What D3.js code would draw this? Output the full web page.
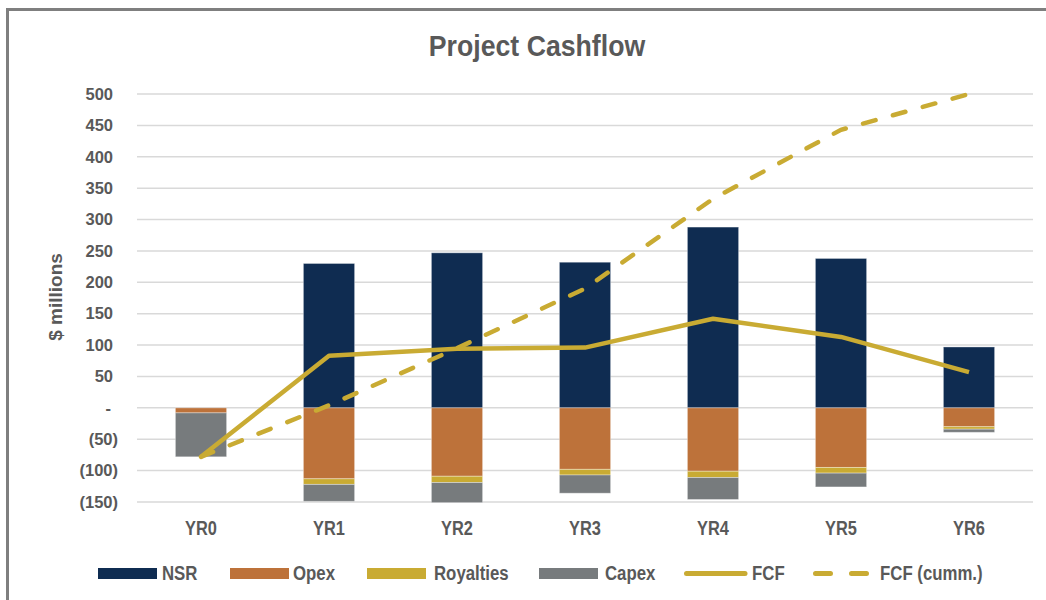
<!DOCTYPE html>
<html>
<head>
<meta charset="utf-8">
<script src="https://cdn.jsdelivr.net/npm/d3@7"></script>
<style>
  body { margin: 0; background: #fff; }
  text { font-family: "Liberation Sans", Arial, sans-serif; font-weight: bold; fill: #595959; }
</style>
</head>
<body>
<div id="chart"></div>
<script>
// data
var years = ["YR0", "YR1", "YR2", "YR3", "YR4", "YR5", "YR6"];
var nsr = [0, 230, 247, 232, 288, 238, 97];
var opex = [-8, -113, -109, -98, -101, -95, -30];
var royalties = [0, -9, -10, -9, -10, -9, -4];
var capex = [-70, -27, -32, -29, -35, -22, -5];
var fcf = [-78, 83, 94, 96, 142, 113, 57];
var fcfCumm = [-78, 4, 95, 190, 333, 443, 500];
var yTicks = [-150, -100, -50, 0, 50, 100, 150, 200, 250, 300, 350, 400, 450, 500];

var seriesKeys = ["NSR", "Opex", "Royalties", "Capex"];
var colors = { NSR: "#0f2c51", Opex: "#bd723a", Royalties: "#c9ab33", Capex: "#777b7d" };
var lineColor = "#c9ab33";

var W = 1046, H = 600;
var plot = { left: 137, right: 1033, top: 94, bottom: 502 };

var svg = d3.select("#chart").append("svg")
    .attr("width", W)
    .attr("height", H);

// condensed text helper (reference uses a narrow face)
function narrowText(parent, x, y, sx, size, str, anchor) {
    return parent.append("text")
        .attr("transform", "translate(" + x + "," + y + ") scale(" + sx + ",1)")
        .attr("text-anchor", anchor || "start")
        .style("font-size", size + "px")
        .text(str);
}

// chart frame (runs off the right / bottom edge like the screenshot)
svg.append("rect")
    .attr("x", 7.5).attr("y", 9.5)
    .attr("width", 1200).attr("height", 800)
    .attr("fill", "none")
    .attr("stroke", "#7f7f7f")
    .attr("stroke-width", 3);

var x = d3.scaleBand().domain(years).range([plot.left, plot.right]).paddingInner(0.6).paddingOuter(0.3);
var y = d3.scaleLinear().domain([-150, 500]).range([plot.bottom, plot.top]);

// gridlines
svg.append("g")
    .selectAll("line")
    .data(yTicks)
    .join("line")
    .attr("x1", plot.left).attr("x2", plot.right)
    .attr("y1", function(d) { return y(d); })
    .attr("y2", function(d) { return y(d); })
    .attr("stroke", "#d9d9d9")
    .attr("stroke-width", 1.5);

// y axis labels, accounting style
var yAxis = d3.axisLeft(y).tickValues(yTicks).tickSize(0).tickPadding(24)
    .tickFormat(function(d) { return d === 0 ? "-" : d < 0 ? "(" + (-d) + ")" : d; });
var yg = svg.append("g")
    .attr("transform", "translate(" + plot.left + ",0)")
    .call(yAxis);
yg.select(".domain").remove();
yg.selectAll("text")
    .attr("x", function(d) { return d < 0 ? -19 : d === 0 ? -26 : -24; })
    .style("font-size", "16.5px");

// x axis labels
var xAxis = d3.axisBottom(x).tickSize(0).tickFormat("");
var xg = svg.append("g")
    .attr("transform", "translate(0," + plot.bottom + ")")
    .call(xAxis);
xg.select(".domain").remove();
years.forEach(function(yr) {
    narrowText(svg, x(yr) + x.bandwidth() / 2, 535, 0.82, 20, yr, "middle");
});

// stacked bars
var rows = years.map(function(yr, i) {
    return { year: yr, NSR: nsr[i], Opex: opex[i], Royalties: royalties[i], Capex: capex[i] };
});
var stacked = d3.stack().keys(seriesKeys).offset(d3.stackOffsetDiverging)(rows);

svg.append("g")
    .selectAll("g")
    .data(stacked)
    .join("g")
    .attr("fill", function(d) { return colors[d.key]; })
    .selectAll("rect")
    .data(function(d) { return d; })
    .join("rect")
    .attr("x", function(d) { return x(d.data.year); })
    .attr("width", x.bandwidth())
    .attr("y", function(d) { return y(Math.max(d[0], d[1])); })
    .attr("height", function(d) { return Math.abs(y(d[0]) - y(d[1])); })
    .attr("stroke", "#ffffff")
    .attr("stroke-opacity", 0.35)
    .attr("stroke-width", 1);

// FCF lines
var line = d3.line()
    .x(function(d, i) { return x(years[i]) + x.bandwidth() / 2; })
    .y(function(d) { return y(d); });

svg.append("path")
    .attr("d", line(fcf))
    .attr("fill", "none")
    .attr("stroke", lineColor)
    .attr("stroke-width", 4.5)
    .attr("stroke-linejoin", "round");

svg.append("path")
    .attr("d", line(fcfCumm))
    .attr("fill", "none")
    .attr("stroke", lineColor)
    .attr("stroke-width", 4.5)
    .attr("stroke-linecap", "round")
    .attr("stroke-dasharray", "13,18");

// title
narrowText(svg, 537, 56, 0.92, 29, "Project Cashflow", "middle");

// y axis title
svg.append("text")
    .attr("transform", "translate(62,297) rotate(-90)")
    .attr("text-anchor", "middle")
    .style("font-size", "19px")
    .text("$ millions");

// legend
var legendItems = [
    { name: "NSR", type: "rect", color: colors.NSR, x: 98, tx: 162 },
    { name: "Opex", type: "rect", color: colors.Opex, x: 230, tx: 293 },
    { name: "Royalties", type: "rect", color: colors.Royalties, x: 367, tx: 434 },
    { name: "Capex", type: "rect", color: colors.Capex, x: 539, tx: 605 },
    { name: "FCF", type: "line", color: lineColor, x: 684, tx: 752 },
    { name: "FCF (cumm.)", type: "dash", color: lineColor, x: 813, tx: 880 }
];
var legend = svg.append("g");
legendItems.forEach(function(it) {
    if (it.type === "rect") {
        legend.append("rect").attr("x", it.x).attr("y", 568).attr("width", 59).attr("height", 11).attr("fill", it.color);
    } else if (it.type === "line") {
        legend.append("line").attr("x1", it.x + 2.5).attr("x2", it.x + 61).attr("y1", 573.5).attr("y2", 573.5)
            .attr("stroke", it.color).attr("stroke-width", 5).attr("stroke-linecap", "round");
    } else {
        legend.append("line").attr("x1", it.x + 2.5).attr("x2", it.x + 54).attr("y1", 573.5).attr("y2", 573.5)
            .attr("stroke", it.color).attr("stroke-width", 5).attr("stroke-linecap", "round")
            .attr("stroke-dasharray", "15,21");
    }
    narrowText(legend, it.tx, 580, 0.8, 21, it.name);
});
</script>
</body>
</html>
